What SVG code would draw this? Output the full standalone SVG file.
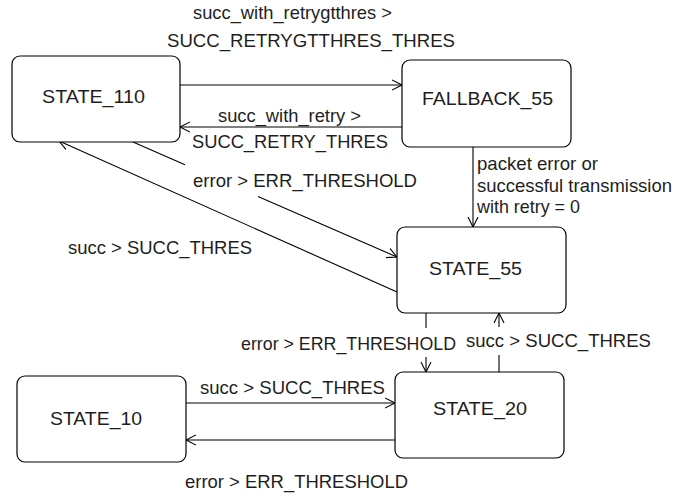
<svg xmlns="http://www.w3.org/2000/svg" width="700" height="496" viewBox="0 0 700 496">
  <style>
    .state { fill: #ffffff; stroke: #000000; stroke-width: 1.2; }
    .edge { fill: none; stroke: #000000; stroke-width: 1.1; }
    .arrow { marker-end: url(#open-arrow); }
    text { font-family: "Liberation Sans", Arial, sans-serif; font-size: 19px; fill: #1e1e1e; }
  </style>
  <defs>
    <marker id="open-arrow" markerUnits="userSpaceOnUse" markerWidth="12" markerHeight="12" refX="10" refY="5" orient="auto" viewBox="0 0 12 10">
      <path d="M0,0 L10,5 L0,10" fill="none" stroke="#000000" stroke-width="1.1"/>
    </marker>
  </defs>
  <rect width="700" height="496" fill="#ffffff"/>

  <!-- transitions -->
  <g id="connectors">
    <path class="edge arrow" d="M180,85 L402,85"/>
    <path class="edge arrow" d="M402,127 L180,127"/>
    <path class="edge arrow" d="M133,142 L185,164.7 M258,196.5 L397,257"/>
    <path class="edge arrow" d="M397,292 L59,141"/>
    <path class="edge arrow" d="M473,147 L473,227"/>
    <path class="edge arrow" d="M426,313 L426,328 M426,357 L426,372"/>
    <path class="edge arrow" d="M499,372 L499,355 M499,327 L499,313"/>
    <path class="edge arrow" d="M186,403 L395,403"/>
    <path class="edge arrow" d="M395,440 L186,440"/>
  </g>

  <!-- transition labels -->
  <g id="labels">
    <text x="193" y="19" textLength="199" lengthAdjust="spacingAndGlyphs">succ_with_retrygtthres &gt;</text>
    <text x="167" y="47" textLength="288" lengthAdjust="spacingAndGlyphs">SUCC_RETRYGTTHRES_THRES</text>
    <text x="218" y="122" textLength="143" lengthAdjust="spacingAndGlyphs">succ_with_retry &gt;</text>
    <text x="192" y="148" textLength="196" lengthAdjust="spacingAndGlyphs">SUCC_RETRY_THRES</text>
    <text x="193" y="187" textLength="224" lengthAdjust="spacingAndGlyphs">error &gt; ERR_THRESHOLD</text>
    <text x="477" y="170" textLength="121" lengthAdjust="spacingAndGlyphs">packet error or</text>
    <text x="477" y="192" textLength="195" lengthAdjust="spacingAndGlyphs">successful transmission</text>
    <text x="477" y="213" textLength="103" lengthAdjust="spacingAndGlyphs">with retry = 0</text>
    <text x="68" y="254" textLength="184" lengthAdjust="spacingAndGlyphs">succ &gt; SUCC_THRES</text>
    <text x="241" y="350" textLength="215" lengthAdjust="spacingAndGlyphs">error &gt; ERR_THRESHOLD</text>
    <text x="466" y="347" textLength="185" lengthAdjust="spacingAndGlyphs">succ &gt; SUCC_THRES</text>
    <text x="200" y="394" textLength="185" lengthAdjust="spacingAndGlyphs">succ &gt; SUCC_THRES</text>
    <text x="185" y="488" textLength="223" lengthAdjust="spacingAndGlyphs">error &gt; ERR_THRESHOLD</text>
  </g>

  <!-- states -->
  <g id="STATE_110">
    <rect class="state" x="12" y="56" width="168" height="86" rx="8" ry="8"/>
    <text x="42" y="103" textLength="103" lengthAdjust="spacingAndGlyphs">STATE_110</text>
  </g>
  <g id="FALLBACK_55">
    <rect class="state" x="402" y="60" width="169" height="87" rx="8" ry="8"/>
    <text x="422" y="105" textLength="131" lengthAdjust="spacingAndGlyphs">FALLBACK_55</text>
  </g>
  <g id="STATE_55">
    <rect class="state" x="397" y="227" width="169" height="86" rx="8" ry="8"/>
    <text x="429" y="275" textLength="93" lengthAdjust="spacingAndGlyphs">STATE_55</text>
  </g>
  <g id="STATE_10">
    <rect class="state" x="17" y="376" width="169" height="86" rx="8" ry="8"/>
    <text x="50" y="425" textLength="92" lengthAdjust="spacingAndGlyphs">STATE_10</text>
  </g>
  <g id="STATE_20">
    <rect class="state" x="395" y="372" width="169" height="86" rx="8" ry="8"/>
    <text x="433" y="415" textLength="94" lengthAdjust="spacingAndGlyphs">STATE_20</text>
  </g>
</svg>
